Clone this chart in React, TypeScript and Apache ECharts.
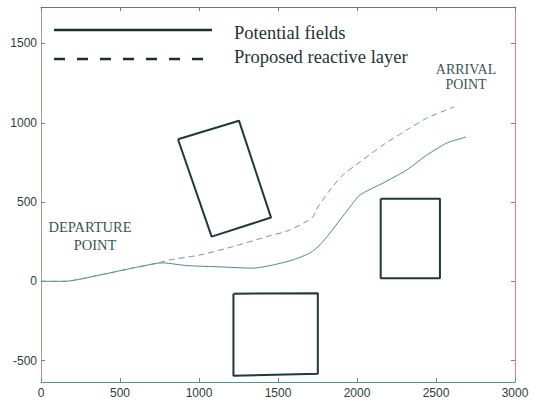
import React, { useEffect, useRef } from 'react';
import * as echarts from 'echarts';

// Axis ticks
const xTicks = [0, 500, 1000, 1500, 2000, 2500, 3000];
const yTicks = [-500, 0, 500, 1000, 1500];

// Potential fields path (solid)
const solidX = [0, 152, 373, 582, 734, 772, 924, 1133, 1342, 1468, 1595, 1703, 1766, 1829, 1892, 1956, 2019, 2165, 2316, 2443, 2570, 2690];
const solidY = [0, 0, 40, 84, 114, 116, 99, 91, 83, 103, 135, 179, 230, 305, 387, 469, 545, 620, 703, 797, 873, 910];

// Proposed reactive layer path (dashed)
const dashX = [0, 152, 373, 582, 734, 816, 1006, 1215, 1430, 1576, 1715, 1753, 1829, 1911, 2019, 2165, 2316, 2443, 2614];
const dashY = [0, 0, 40, 84, 114, 135, 166, 219, 282, 324, 400, 469, 576, 671, 753, 860, 955, 1030, 1100];

// Obstacles (closed polygons)
const rect1X = [867, 1253, 1456, 1080, 867];
const rect1Y = [896, 1013, 402, 282, 896];
const rect2X = [2150, 2525, 2525, 2150, 2150];
const rect2Y = [520, 520, 20, 20, 520];
const rect3X = [1218, 1752, 1752, 1218, 1218];
const rect3Y = [-78, -75, -583, -595, -78];

const legendNames = ['Potential fields', 'Proposed reactive layer'];

const zip = (xs: number[], ys: number[]) => xs.map((x, i) => [x, ys[i]]);

export default function App() {
  const ref = useRef<HTMLDivElement>(null);
  useEffect(() => {
    const chart = echarts.init(ref.current!, null, { renderer: 'svg' });
    const labelStyle = {
      fontFamily: 'Liberation Sans, Arial, sans-serif', fontSize: 12, color: '#2b3d3d',
      formatter: (v: number) => String(v),
    };
    const rectSeries = (xs: number[], ys: number[]) => ({
      type: 'line', data: zip(xs, ys), symbol: 'none', silent: true, z: 3,
      lineStyle: { color: '#1f3a36', width: 2 },
    });
    const serif = 'Liberation Serif, Times New Roman, serif';
    chart.setOption({
      animation: false,
      backgroundColor: '#ffffff',
      grid: { left: 41, right: 18, top: 7, bottom: 19 },
      xAxis: [
        {
          type: 'value', min: 0, max: 3000, interval: 500, position: 'bottom',
          axisLine: { show: true, onZero: false, lineStyle: { color: '#5a9090', width: 1 } },
          axisTick: { show: true, inside: true, length: 4, lineStyle: { color: '#5a9090' } },
          axisLabel: { ...labelStyle, margin: 5, customValues: xTicks },
          splitLine: { show: false },
        },
        {
          type: 'value', min: 0, max: 3000, interval: 500, position: 'top',
          axisLine: { show: true, onZero: false, lineStyle: { color: '#5b7b7b', width: 1 } },
          axisTick: { show: true, inside: true, length: 4, lineStyle: { color: '#5b7b7b' } },
          axisLabel: { show: false },
          splitLine: { show: false },
        },
      ],
      yAxis: [
        {
          type: 'value', min: -635, max: 1730, position: 'left',
          axisLine: { show: true, onZero: false, lineStyle: { color: '#c09090', width: 1 } },
          axisTick: { show: true, inside: true, length: 4, customValues: yTicks, lineStyle: { color: '#5a9090' } },
          axisLabel: { ...labelStyle, margin: 4, customValues: yTicks },
          splitLine: { show: false },
        },
        {
          type: 'value', min: -635, max: 1730, position: 'right',
          axisLine: { show: true, onZero: false, lineStyle: { color: '#e08080', width: 1 } },
          axisTick: { show: true, inside: true, length: 4, customValues: yTicks, lineStyle: { color: '#5a9090' } },
          axisLabel: { show: false },
          splitLine: { show: false },
        },
      ],
      series: [
        {
          name: legendNames[0], type: 'line', data: zip(solidX, solidY), symbol: 'none', z: 2, smooth: 0.2,
          lineStyle: { color: '#4f8a84', width: 1 },
        },
        {
          name: legendNames[1], type: 'line', data: zip(dashX, dashY), symbol: 'none', z: 2, smooth: 0.2,
          lineStyle: { color: '#6a9a95', width: 1, type: [6, 4] },
        },
        rectSeries(rect1X, rect1Y),
        rectSeries(rect2X, rect2Y),
        rectSeries(rect3X, rect3Y),
      ],
      graphic: [
        { type: 'line', shape: { x1: 54, y1: 30, x2: 212, y2: 30 }, style: { stroke: '#1a2e2e', lineWidth: 2.5 } },
        { type: 'line', shape: { x1: 54, y1: 59, x2: 212, y2: 59 }, style: { stroke: '#1a2e2e', lineWidth: 2.5, lineDash: [11, 12] } },
        { type: 'text', x: 234, y: 33, style: { text: legendNames[0], font: `18.5px ${serif}`, fill: '#1e3535', textVerticalAlign: 'middle' } },
        { type: 'text', x: 234, y: 57, style: { text: legendNames[1], font: `18.5px ${serif}`, fill: '#1e3535', textVerticalAlign: 'middle' } },
        { type: 'text', x: 466, y: 69, style: { text: 'ARRIVAL', font: `14px ${serif}`, fill: '#3a5656', textAlign: 'center', textVerticalAlign: 'middle' } },
        { type: 'text', x: 466, y: 84, style: { text: 'POINT', font: `14px ${serif}`, fill: '#3a5656', textAlign: 'center', textVerticalAlign: 'middle' } },
        { type: 'text', x: 90, y: 227, style: { text: 'DEPARTURE', font: `14.5px ${serif}`, fill: '#3a5656', textAlign: 'center', textVerticalAlign: 'middle' } },
        { type: 'text', x: 95, y: 245, style: { text: 'POINT', font: `14.5px ${serif}`, fill: '#3a5656', textAlign: 'center', textVerticalAlign: 'middle' } },
      ],
    });
    return () => chart.dispose();
  }, []);
  return <div ref={ref} style={{ position: 'fixed', left: 0, top: 0, width: 533, height: 401 }} />;
}
